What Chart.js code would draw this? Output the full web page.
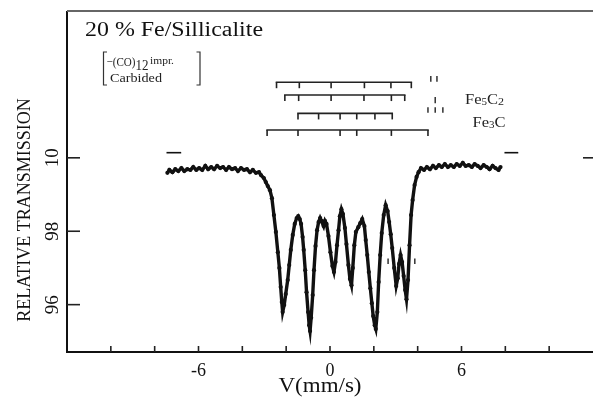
<!DOCTYPE html>
<html>
<head>
<meta charset="utf-8">
<script src="https://cdn.jsdelivr.net/npm/chart.js@4.4.0/dist/chart.umd.min.js"></script>
<style>
  html, body { margin: 0; padding: 0; background: #fff; overflow: hidden; width: 593px; height: 403px; }
  canvas { display: block; }
</style>
</head>
<body>
<canvas id="c" width="597" height="403"></canvas>
<script>
// Mössbauer spectrum of carbided 20 % Fe/Sillicalite
// Doppler velocity (mm/s)
const velocity = [
  -7.42,-7.33,-7.19,-7.06,-6.92,-6.78,-6.65,-6.51,-6.37,-6.24,
  -6.10,-5.97,-5.83,-5.69,-5.56,-5.42,-5.29,-5.15,-5.01,-4.88,
  -4.74,-4.61,-4.47,-4.33,-4.20,-4.06,-3.92,-3.79,-3.65,-3.52,
  -3.38,-3.24,-3.15,-3.02,-2.93,-2.84,-2.74,-2.65,
  -2.56,-2.47,-2.38,-2.31,-2.25,-2.20,-2.16,-2.09,-2.02,-1.93,
  -1.86,-1.79,-1.70,-1.61,-1.52,-1.45,-1.38,-1.32,-1.25,-1.20,
  -1.13,-1.07,-1.00,-0.95,-0.91,-0.86,-0.79,-0.73,-0.66,-0.59,
  -0.52,-0.45,-0.39,-0.29,-0.23,-0.16,-0.07,0.02,0.11,0.18,
  0.25,0.32,0.39,0.45,0.52,0.59,0.68,0.75,0.84,0.91,
  0.98,1.04,1.11,1.18,1.29,1.38,1.47,1.57,1.63,1.70,
  1.77,1.84,1.91,1.97,2.04,2.09,2.16,2.22,2.29,2.36,
  2.45,2.54,2.63,2.70,2.77,2.84,2.93,3.02,3.09,3.15,
  3.22,3.29,3.36,3.43,3.49,3.56,3.63,3.70,3.77,3.86,
  3.95,4.04,
  4.15,4.29,4.42,4.56,4.70,4.83,4.97,5.10,5.24,5.38,
  5.51,5.65,5.78,5.92,6.06,6.19,6.33,6.47,6.60,6.74,
  6.87,7.01,7.15,7.28,7.42,7.55,7.69,7.78
];
// Relative transmission (%)
const transmission = [
  99.59,99.67,99.61,99.69,99.64,99.72,99.64,99.69,99.67,99.75,
  99.67,99.72,99.67,99.78,99.69,99.75,99.69,99.78,99.72,99.75,
  99.67,99.75,99.69,99.72,99.64,99.72,99.67,99.69,99.61,99.67,
  99.59,99.61,99.53,99.45,99.34,99.23,99.12,98.90,
  98.44,97.98,97.43,97.00,96.48,96.07,95.80,95.99,96.29,96.67,
  97.08,97.49,97.90,98.20,98.36,98.41,98.33,98.20,97.84,97.49,
  96.94,96.34,95.80,95.44,95.28,95.64,96.26,96.94,97.60,98.03,
  98.25,98.36,98.28,98.14,98.28,98.20,97.87,97.43,97.05,96.89,
  97.16,97.62,98.03,98.41,98.60,98.47,98.09,97.65,97.08,96.70,
  96.53,97.00,97.62,97.98,98.11,98.22,98.33,98.14,97.76,97.35,
  96.89,96.45,96.04,95.69,95.44,95.34,95.80,96.62,97.35,97.95,
  98.44,98.71,98.55,98.25,97.92,97.54,97.00,96.51,96.72,97.11,
  97.35,97.16,96.78,96.40,96.15,96.67,97.62,98.44,98.85,99.26,
  99.48,99.61,
  99.72,99.67,99.75,99.69,99.78,99.72,99.80,99.75,99.83,99.75,
  99.80,99.75,99.83,99.78,99.86,99.78,99.80,99.75,99.83,99.78,
  99.72,99.80,99.75,99.69,99.78,99.72,99.67,99.75
];

// Axis ticks
const xTickMarks = [-10, -8, -6, -4, -2, 0, 2, 4, 6, 8, 10];
const xTickLabels = [-6, 0, 6];
const yTickValues = [96, 98, 100];
const yTickLabels = ['96', '98', '10'];

// Line-position stick diagrams (mm/s) and the transmission level of each bar
const sticksFe5C2a = [-2.44, -1.40, 0.05, 1.57, 2.78, 3.71];
const sticksFe5C2b = [-2.06, -1.43, 0.05, 1.55, 2.80, 3.41];
const sticksFe3Ca  = [-1.46, -0.52, 0.46, 1.22, 2.05, 2.84];
const sticksFe3Cb  = [-2.87, -1.46, 0.46, 1.22, 2.80, 4.47];
const stickLevels  = [102.06, 101.71, 101.21, 100.76];

// Key marks beside the sticks: [velocity, top level, bottom level]
const keyMarks = [
  [4.60, 102.23, 102.07], [4.88, 102.23, 102.07],
  [4.80, 101.66, 101.49],
  [4.47, 101.38, 101.23], [4.80, 101.38, 101.23], [5.15, 101.38, 101.23]
];
// Baseline reference dashes: [from, to, level]
const baseDashes = [[-7.46, -6.79, 100.14], [7.96, 8.59, 100.14]];
// Small markers near the outer dips
const dipMarks = [[2.65, 97.26, 97.11], [3.87, 97.26, 97.11]];

const SERIF = '"Liberation Serif", "Times New Roman", serif';

function strokeLine(ctx, x1, y1, x2, y2) {
  ctx.beginPath(); ctx.moveTo(x1, y1); ctx.lineTo(x2, y2); ctx.stroke();
}
function drawText(ctx, s, x, y, size, width, align) {
  ctx.save();
  ctx.font = size + 'px ' + SERIF;
  ctx.textBaseline = 'alphabetic';
  ctx.textAlign = 'left';
  const w = ctx.measureText(s).width;
  const sx = width ? width / w : 1;
  let x0 = x;
  if (align === 'center') x0 = x - (w * sx) / 2;
  ctx.translate(x0, y);
  ctx.scale(sx, 1);
  ctx.fillText(s, 0, 0);
  ctx.restore();
  return w * sx;
}

const decor = {
  id: 'decor',
  afterDatasetsDraw(chart) {
    const { ctx, chartArea: a, scales: { x, y } } = chart;
    ctx.save();
    ctx.lineCap = 'butt';

    // frame
    ctx.strokeStyle = '#111'; ctx.lineWidth = 2;
    strokeLine(ctx, a.left, a.top, a.left, a.bottom + 1);
    strokeLine(ctx, a.left - 1, a.bottom, a.right, a.bottom);
    ctx.strokeStyle = '#666';
    strokeLine(ctx, a.left, a.top, a.right, a.top);

    // inward tick marks
    ctx.strokeStyle = '#222'; ctx.lineWidth = 1.6;
    xTickMarks.forEach(v => {
      const px = x.getPixelForValue(v);
      strokeLine(ctx, px, a.bottom, px, a.bottom - 6);
    });
    yTickValues.forEach(v => {
      const py = y.getPixelForValue(v);
      strokeLine(ctx, a.left, py, a.left + 13, py);
    });
    const p100 = y.getPixelForValue(100);
    strokeLine(ctx, a.right - 10, p100, a.right, p100);

    // rotated y tick labels
    ctx.fillStyle = '#111';
    ctx.font = '19px ' + SERIF;
    ctx.textAlign = 'center'; ctx.textBaseline = 'middle';
    yTickValues.forEach((v, i) => {
      ctx.save();
      ctx.translate(53, y.getPixelForValue(v));
      ctx.rotate(-Math.PI / 2);
      ctx.fillText(yTickLabels[i], 0, 0);
      ctx.restore();
    });
    // y title
    ctx.save();
    ctx.font = '18px ' + SERIF;
    ctx.translate(25.5, 210);
    ctx.rotate(-Math.PI / 2);
    ctx.fillText('RELATIVE TRANSMISSION', 0, 0);
    ctx.restore();
    // x title
    drawText(ctx, 'V(mm/s)', 320, 392, 20, 83, 'center');

    // stick diagrams
    ctx.strokeStyle = '#222'; ctx.lineWidth = 1.6;
    [sticksFe5C2a, sticksFe5C2b, sticksFe3Ca, sticksFe3Cb].forEach((row, r) => {
      const py = y.getPixelForValue(stickLevels[r]);
      const xs = row.map(v => x.getPixelForValue(v));
      strokeLine(ctx, Math.min(...xs) - 0.8, py, Math.max(...xs) + 0.8, py);
      xs.forEach(px => strokeLine(ctx, px, py, px, py + 6));
    });
    ctx.lineWidth = 1.4;
    keyMarks.forEach(([v, t, b]) => {
      const px = x.getPixelForValue(v);
      strokeLine(ctx, px, y.getPixelForValue(t), px, y.getPixelForValue(b));
    });
    dipMarks.forEach(([v, t, b]) => {
      const px = x.getPixelForValue(v);
      strokeLine(ctx, px, y.getPixelForValue(t), px, y.getPixelForValue(b));
    });
    ctx.lineWidth = 1.6; ctx.strokeStyle = '#111';
    baseDashes.forEach(([f, t, l]) => {
      const py = y.getPixelForValue(l);
      strokeLine(ctx, x.getPixelForValue(f), py, x.getPixelForValue(t), py);
    });

    // compound labels
    ctx.fillStyle = '#222';
    let cx = 465;
    cx += drawText(ctx, 'Fe', cx, 103.5, 14, 16.5);
    cx += drawText(ctx, '5', cx, 105, 10, 5.5);
    cx += drawText(ctx, 'C', cx, 103.5, 14, 11);
    drawText(ctx, '2', cx, 105, 10, 6);
    cx = 472.5;
    cx += drawText(ctx, 'Fe', cx, 126.5, 14, 16.5);
    cx += drawText(ctx, '3', cx, 128, 10, 5.5);
    drawText(ctx, 'C', cx, 126.5, 14, 11);

    // sample title
    ctx.fillStyle = '#111';
    drawText(ctx, '20 % Fe/Sillicalite', 85, 36, 20, 178);

    // treatment key
    ctx.fillStyle = '#222';
    ctx.strokeStyle = '#333'; ctx.lineWidth = 1.2;
    ctx.beginPath();
    ctx.moveTo(107, 52); ctx.lineTo(103.5, 52); ctx.lineTo(103.5, 85); ctx.lineTo(107, 85);
    ctx.moveTo(196.5, 52); ctx.lineTo(200, 52); ctx.lineTo(200, 85); ctx.lineTo(196.5, 85);
    ctx.stroke();
    let kx = 106.5;
    kx += drawText(ctx, '\u2212(CO)', kx, 65.5, 12.5, 29);
    kx += drawText(ctx, '12', kx, 69.5, 14, 13);
    drawText(ctx, 'impr.', kx + 1.5, 64, 11, 24);
    drawText(ctx, 'Carbided', 110, 81.5, 12.5, 52);

    ctx.restore();
  }
};

new Chart(document.getElementById('c'), {
  type: 'scatter',
  data: {
    datasets: [{
      data: velocity.map((v, i) => ({ x: v, y: transmission[i] })),
      showLine: true,
      borderColor: '#111',
      borderWidth: 3.4,
      pointRadius: 2.1,
      pointBackgroundColor: '#111',
      pointBorderWidth: 0,
      tension: 0
    }]
  },
  options: {
    responsive: false,
    animation: false,
    layout: { padding: { top: 11, right: 1, left: 0, bottom: 0 } },
    plugins: { legend: { display: false }, tooltip: { enabled: false } },
    scales: {
      x: {
        type: 'linear', min: -12, max: 12,
        grid: { display: false, drawTicks: false },
        border: { display: false },
        afterBuildTicks: s => { s.ticks = xTickLabels.map(v => ({ value: v })); },
        afterFit: s => { s.height = 51; },
        ticks: {
          padding: 8, maxRotation: 0, autoSkip: false, color: '#111',
          font: { family: 'Liberation Serif', size: 18 },
          callback: v => String(v)
        }
      },
      y: {
        type: 'linear', min: 94.71, max: 104,
        grid: { display: false, drawTicks: false },
        border: { display: false },
        afterBuildTicks: s => { s.ticks = yTickValues.map(v => ({ value: v })); },
        afterFit: s => { s.width = 67; },
        ticks: { display: false }
      }
    }
  },
  plugins: [decor]
});
</script>
</body>
</html>
